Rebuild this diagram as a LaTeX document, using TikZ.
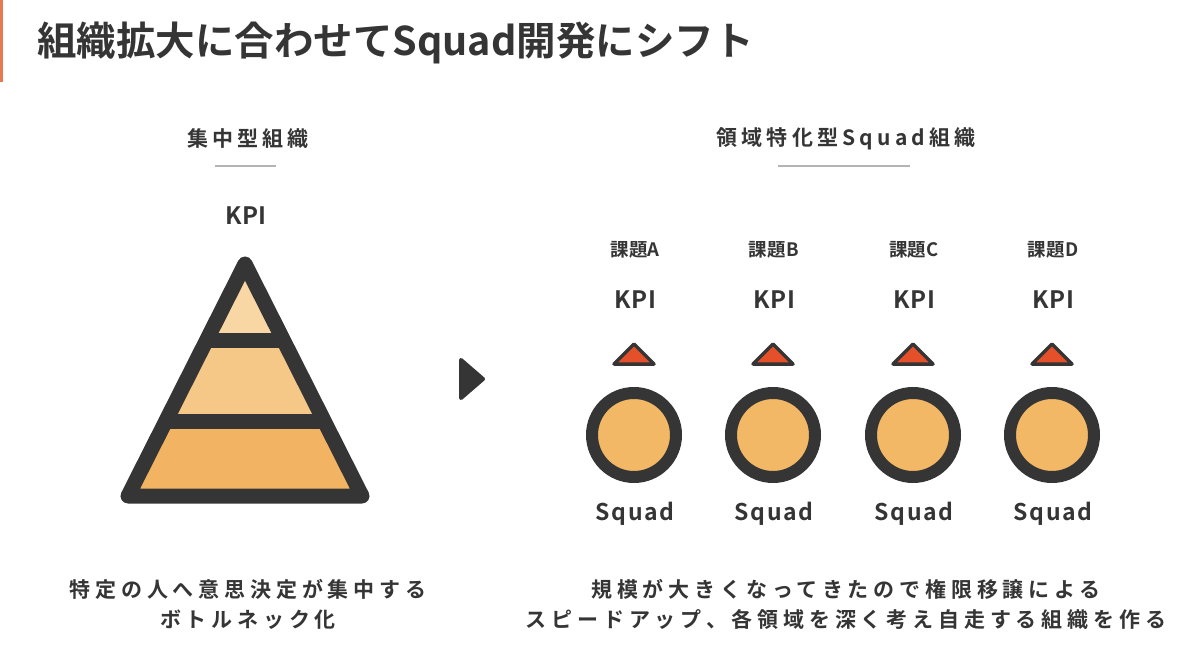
\documentclass[tikz,border=0pt]{standalone}
\usepackage{fontspec}
\setmainfont{Noto Sans CJK JP}[BoldFont=* Bold]
\definecolor{ink}{HTML}{353535}
\definecolor{rulegray}{HTML}{B4B4B4}
\definecolor{accent}{HTML}{E8784F}
\definecolor{tierA}{HTML}{F8D7A4}
\definecolor{tierB}{HTML}{F6C887}
\definecolor{tierC}{HTML}{F2B462}
\definecolor{ball}{HTML}{F2B865}
\definecolor{kpired}{HTML}{E4502A}
\tikzset{
  titletext/.style={font=\bfseries\fontsize{39.5}{44}\selectfont, text=ink, inner sep=0pt},
  headtext/.style={font=\bfseries\addfontfeatures{LetterSpace=20}\fontsize{21}{24}\selectfont, text=ink, inner sep=0pt},
  kpitext/.style={font=\bfseries\addfontfeatures{LetterSpace=3}\fontsize{24}{26}\selectfont, text=ink, inner sep=0pt},
  kadaitext/.style={font=\bfseries\addfontfeatures{LetterSpace=2}\fontsize{18.5}{20}\selectfont, text=ink, inner sep=0pt},
  squadtext/.style={font=\bfseries\addfontfeatures{LetterSpace=8}\fontsize{23}{26}\selectfont, text=ink, inner sep=0pt},
  bodytext/.style={font=\bfseries\addfontfeatures{LetterSpace=23}\fontsize{21}{30}\selectfont, text=ink, inner sep=0pt, align=center},
  headrule/.style={draw=rulegray, line width=1.6pt},
  ringstyle/.style={circle, draw=ink, line width=12pt, fill=ball, minimum size=84pt, inner sep=0pt},
  kpimark/.style={draw=ink, fill=kpired, line width=3.5pt, line join=round},
}
\begin{document}
\begin{tikzpicture}[x=1pt,y=-1pt]
\useasboundingbox (0,0) rectangle (1200,671);
\fill[white] (0,0) rectangle (1200,671);
% accent bar
\fill[accent] (0,0) rectangle (2.5,82);
% title
\node[titletext, anchor=west] (title) at (37,43) {組織拡大に合わせてSquad開発にシフト};

% left heading
\node[headtext] (lefthead) at (248,139) {集中型組織};
\coordinate (lr1) at (215,166); \coordinate (lr2) at (276,166);
\draw[headrule] (lr1) -- (lr2);
\node[kpitext] (leftkpi) at (246,216) {KPI};

% pyramid
\coordinate (ap) at (245,264);
\coordinate (bl) at (128,496);
\coordinate (br) at (362,496);
\coordinate (l1) at (206.5,340); \coordinate (r1) at (283.5,340);
\coordinate (l2) at (166,421); \coordinate (r2) at (324,421);
\fill[tierA] (ap) -- (r1) -- (l1) -- cycle;
\fill[tierB] (l1) -- (r1) -- (r2) -- (l2) -- cycle;
\fill[tierC] (l2) -- (r2) -- (br) -- (bl) -- cycle;
\draw[ink, line width=15pt, line join=round] (ap) -- (br) -- (bl) -- cycle;
\draw[ink, line width=15pt] (l1) -- (r1);
\draw[ink, line width=15pt] (l2) -- (r2);

% play arrow
\coordinate (pa1) at (461,360); \coordinate (pa2) at (461,398); \coordinate (pa3) at (483,379);
\fill[ink, draw=ink, line width=4pt, line join=round] (pa1) -- (pa3) -- (pa2) -- cycle;

% right heading
\node[headtext] (righthead) at (846,139) {領域特化型Squad組織};
\coordinate (rr1) at (778,166); \coordinate (rr2) at (910,166);
\draw[headrule] (rr1) -- (rr2);

% squads
\foreach \x/\k/\n in {634/A/a, 773/B/b, 913/C/c, 1052/D/d}{
  \node[kadaitext] (kadai\n) at (\x+1,250) {課題\k};
  \node[kpitext] (kpi\n) at (\x+1,300) {KPI};
  \coordinate (mt\n) at (\x,344);
  \coordinate (ml\n) at (\x-20,364);
  \coordinate (mr\n) at (\x+20,364);
  \draw[kpimark] (mt\n) -- (mr\n) -- (ml\n) -- cycle;
  \node[ringstyle] (ring\n) at (\x,435) {};
  \node[squadtext] (squad\n) at (\x+1,514) {Squad};
}

% bottom texts
\node[bodytext] (leftbody) at (248,604) {特定の人へ意思決定が集中する\\ボトルネック化};
\node[bodytext] (rightbody) at (846,604) {規模が大きくなってきたので権限移譲による\\スピードアップ、各領域を深く考え自走する組織を作る};
\end{tikzpicture}
\end{document}
